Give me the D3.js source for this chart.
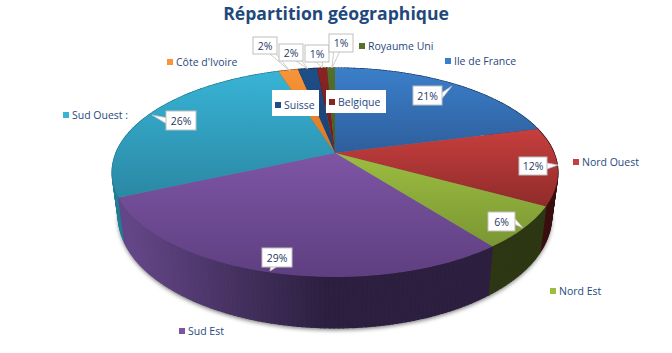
<!DOCTYPE html>
<html>
<head>
<meta charset="utf-8">
<script src="https://cdn.jsdelivr.net/npm/d3@7"></script>
<style>
  html, body { margin: 0; padding: 0; background: #fff; }
  text { font-family: "Open Sans", sans-serif; }
</style>
</head>
<body>
<div id="chart"></div>
<script>
const regions = ["Ile de France", "Nord Ouest", "Nord Est", "Sud Est", "Sud Ouest :", "Côte d'Ivoire", "Suisse", "Belgique", "Royaume Uni"];
const shares = [21, 12, 6.5, 28.8, 26.8, 1.7, 1.65, 0.85, 0.7];
const shareLabels = ["21%", "12%", "6%", "29%", "26%", "2%", "2%", "1%", "1%"];
const topColors = ["#3b7fca", "#c63f3e", "#9cbd40", "#7e55a5", "#38b3d6", "#f8953a", "#1f4e87", "#8a2424", "#55702a"];
const bottomColors = ["#2e5e9c", "#8f2b2a", "#7b9633", "#5e3f80", "#2a88a3", "#d9761f", "#1a3f6e", "#6e1b1b", "#465c22"];
const wallColors = ["#24497a", "#431212", "#343f18", "#644788", "#1f7f95", "#b05f18", "#14304f", "#4f1414", "#34451a"];
const wallDark = ["#1c3960", "#3a0f0f", "#2e3714", "#2c1f3f", "#1a6b7e", "#8f4d12", "#102840", "#3f1010", "#2b3915"];

// label box: x, y, w, h and where the tail ends
const labelBoxes = [[413, 86, 29, 19, 452, 86], [519, 157, 28, 18, 558, 165], [488, 212, 27, 19, 523, 228], [262, 248, 30, 19, 270, 271], [166, 111, 30, 19, 152, 115], [253, 37, 24, 17, 290, 71], [279, 44, 24, 17, 308, 69], [305, 45, 24, 17, 322, 68], [329, 34, 24, 18, 332, 68]];
const legendPos = [[445, 61], [573, 162], [550, 291], [179, 331], [63, 115], [167, 62], [275, 105], [329, 102], [359, 46]];

const width = 672, height = 353;

const svg = d3.select("#chart").append("svg")
  .attr("width", width)
  .attr("height", height)
  .style("display", "block");
const defs = svg.append("defs");

defs.append("filter").attr("id", "soft")
  .attr("x", "-10%").attr("y", "-10%").attr("width", "120%").attr("height", "120%")
  .append("feGaussianBlur").attr("stdDeviation", 2);

// perspective pie: unit circle seen from above
const cx = 335, apexY = 153;
const k = -0.1866, ry = 72.3, rx = 219;

function rimTop(a) {
  const u = Math.sin(a), v = -Math.cos(a), w = 1 + k * v;
  return [cx + rx * u / w, (apexY + ry * v) / w];
}
function rimBottom(a) {
  const p = rimTop(a);
  return [cx + (p[0] - cx) * 0.972, 253 + 1.07 * (p[1] - 207)];
}

const pieData = d3.pie().sort(null).value(d => d)(shares);
const line = d3.line();

function arcAngles(d) {
  return d3.range(d.startAngle, d.endAngle, Math.PI / 180).concat([d.endAngle]);
}

// shadow under the pie
const allAngles = d3.range(0, 2 * Math.PI, Math.PI / 90);
svg.append("path")
  .attr("d", line(allAngles.map(a => { const p = rimBottom(a); return [p[0], p[1] + 2]; })) + "Z")
  .attr("fill", "#777")
  .attr("filter", "url(#soft)");

// side walls, back to front
const wallSegs = [];
pieData.forEach((d, i) => {
  d3.pairs(arcAngles(d)).forEach(pair => wallSegs.push({ i: i, a0: pair[0], a1: pair[1] }));
});
wallSegs.sort((p, q) => -Math.cos(p.a0) - -Math.cos(q.a0));

// darker toward the lower right of the wall
function wallColor(s) {
  const t = Math.max(0, Math.min(1, (rimTop(s.a0)[0] - 130) / 200));
  return d3.interpolateRgb(wallColors[s.i], wallDark[s.i])(t);
}

svg.append("g").selectAll("path")
  .data(wallSegs)
  .enter().append("path")
  .attr("d", s => line([rimTop(s.a0), rimTop(s.a1), rimBottom(s.a1), rimBottom(s.a0)]) + "Z")
  .attr("fill", wallColor)
  .attr("stroke", wallColor)
  .attr("stroke-width", 1.2);

// top faces
pieData.forEach((d, i) => {
  const grad = defs.append("linearGradient").attr("id", "top" + i)
    .attr("x1", 0).attr("x2", 0).attr("y1", 0).attr("y2", 1);
  grad.append("stop").attr("offset", 0).attr("stop-color", topColors[i]);
  grad.append("stop").attr("offset", 1).attr("stop-color", bottomColors[i]);
});

svg.append("g").selectAll("path")
  .data(pieData)
  .enter().append("path")
  .attr("d", d => line([[cx, apexY]].concat(arcAngles(d).map(rimTop))) + "Z")
  .attr("fill", (d, i) => "url(#top" + i + ")");

// legend
const legend = svg.append("g").selectAll("g")
  .data(regions)
  .enter().append("g")
  .attr("transform", (d, i) => "translate(" + legendPos[i][0] + "," + legendPos[i][1] + ")");

legend.filter(d => d === "Suisse" || d === "Belgique").append("rect")
  .attr("x", -3)
  .attr("y", d => d === "Suisse" ? -15 : -12)
  .attr("width", d => d === "Suisse" ? 47 : 60)
  .attr("height", d => d === "Suisse" ? 26 : 23)
  .attr("fill", "#fff");

legend.append("rect")
  .attr("x", 0).attr("y", -3)
  .attr("width", 6).attr("height", 6)
  .attr("fill", (d, i) => topColors[i]);

legend.append("text")
  .attr("x", 9).attr("y", 4)
  .attr("font-size", "10.5px")
  .attr("fill", "#1f497d")
  .text(d => d);

// callout labels
const callouts = svg.append("g").selectAll("g")
  .data(labelBoxes)
  .enter().append("g");

callouts.append("path")
  .attr("d", b => {
    const mx = b[0] + b[2] / 2, my = b[1] + b[3] / 2;
    const dx = b[4] - mx, dy = b[5] - my;
    // tail base sits on the box side nearest the target
    if (Math.abs(dx) / b[2] > Math.abs(dy) / b[3]) {
      const sx = dx > 0 ? b[0] + b[2] : b[0];
      return line([[sx, my - 3], [b[4], b[5]], [sx, my + 3]]);
    }
    const sy = dy > 0 ? b[1] + b[3] : b[1];
    const bx = Math.max(b[0] + 4, Math.min(b[0] + b[2] - 4, mx + dx * 0.5));
    return line([[bx - 3, sy], [b[4], b[5]], [bx + 3, sy]]);
  })
  .attr("fill", "#fff")
  .attr("stroke", "#bfbfbf")
  .attr("stroke-width", 0.8);

callouts.append("rect")
  .attr("x", b => b[0]).attr("y", b => b[1])
  .attr("width", b => b[2]).attr("height", b => b[3])
  .attr("fill", "#fff")
  .attr("stroke", "#bfbfbf")
  .attr("stroke-width", 1);

callouts.append("text")
  .attr("x", b => b[0] + b[2] / 2)
  .attr("y", b => b[1] + b[3] / 2 + 4)
  .attr("text-anchor", "middle")
  .attr("font-size", "10.5px")
  .attr("fill", "#1f3864")
  .text((b, i) => shareLabels[i]);

// title
svg.append("text")
  .attr("x", 336).attr("y", 20)
  .attr("text-anchor", "middle")
  .attr("font-size", "17.6px")
  .attr("font-weight", "bold")
  .attr("fill", "#1f497d")
  .text("Répartition géographique");
</script>
</body>
</html>
